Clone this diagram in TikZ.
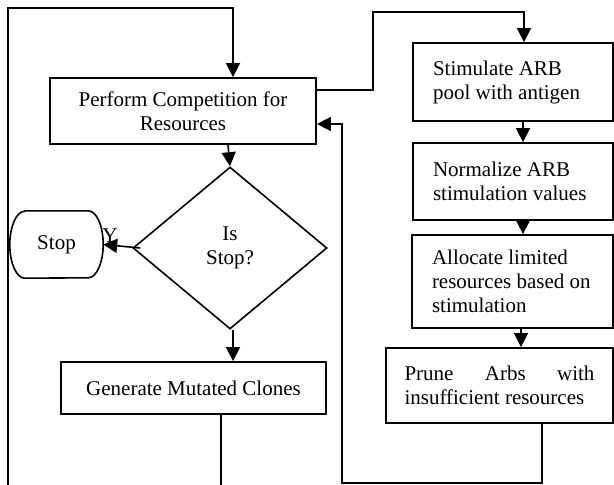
\documentclass[tikz,border=0pt]{standalone}
\usepackage{fontspec}
\setmainfont{Liberation Serif}
\usetikzlibrary{arrows.meta,shapes.geometric}
\begin{document}
\begin{tikzpicture}[x=1pt,y=-1pt,
  every node/.style={font=\fontsize{21}{24}\selectfont},
  line/.style={line width=1.6pt, line join=miter},
  flow/.style={line, -{Triangle[length=14pt,width=14pt]}},
  procbox/.style={draw, line width=1.8pt, inner sep=0pt, align=center},
  leftbox/.style={draw, line width=1.8pt, inner xsep=20pt, inner ysep=0pt,
    align=flush left, text width=160pt},
  decision/.style={draw, line width=1.6pt, diamond, inner sep=0pt, align=center},
  terminal/.style={inner sep=0pt}]
\useasboundingbox (0,0) rectangle (614,485);

% left column
\node[procbox, minimum width=266pt, minimum height=66pt] (perform) at (183,111)
  {Perform Competition for\\Resources};
\node[decision, minimum width=194pt, minimum height=162pt] (isstop) at (230,248)
  {Is\\Stop?};
\node[terminal, minimum width=93pt, minimum height=67pt] (stop) at (56.5,244.5) {Stop};
% terminal outline: flat top and bottom, elliptic sides
\draw[line width=1.6pt, line join=round]
  ([xshift=15pt]stop.north west) -- ([xshift=-15pt]stop.north east)
  arc[start angle=90, end angle=-90, x radius=15pt, y radius=33.5pt]
  -- ([xshift=15pt]stop.south west)
  arc[start angle=-90, end angle=-270, x radius=15pt, y radius=33.5pt]
  -- cycle;
\node[procbox, minimum width=265pt, minimum height=52pt] (mutate) at (193.5,388)
  {Generate Mutated Clones};

% right column
\node[leftbox, minimum height=78pt] (stim) at (513,82)
  {Stimulate ARB\\pool with antigen};
\node[leftbox, minimum height=77pt] (norm) at (513,181.5)
  {Normalize ARB\\stimulation values};
\node[leftbox, text width=161pt, minimum height=93pt] (alloc) at (512.5,281.5)
  {Allocate limited\\resources based on\\stimulation};
\node[draw, line width=1.8pt, inner sep=0pt, minimum width=227pt, minimum height=75pt] (prune) at (499.5,385.5)
  {\parbox{190pt}{\hbox to 190pt{Prune\hfill Arbs\hfill with}\hbox{insufficient resources}}};

% connectors of the main loop
\coordinate (loopA) at (221,492);
\coordinate (loopB) at (8,492);
\coordinate (loopC) at (8,8);
\coordinate (loopD) at (233,8);
\draw[flow] (mutate.south -| loopA) -- (loopA) -- (loopB) -- (loopC) -- (loopD)
  -- (perform.north -| loopD);

\draw[flow] (perform.south -| 228,0) -- (isstop.north);
\draw[flow] ([xshift=8pt]isstop.west) -- (stop.east);
\node (ylabel) at (110,236) {Y};
\draw[flow] (isstop.south -| 233,0) -- (mutate.north -| 233,0);

% connectors of the resource step
\coordinate (outA) at (373,90);
\coordinate (outB) at (373,12);
\coordinate (outC) at (524,12);
\draw[flow] (perform.east |- outA) -- (outA) -- (outB) -- (outC) -- (stim.north -| outC);
\draw[flow] (stim.south -| 523,0) -- (norm.north -| 523,0);
\draw[flow] (norm.south -| 523,0) -- (alloc.north -| 523,0);
\draw[flow] (alloc.south -| 521,0) -- (prune.north -| 521,0);

\coordinate (backA) at (542,483);
\coordinate (backB) at (342,483);
\coordinate (backC) at (342,124);
\draw[flow] (prune.south -| backA) -- (backA) -- (backB) -- (backC) -- (perform.east |- backC);
\end{tikzpicture}
\end{document}
